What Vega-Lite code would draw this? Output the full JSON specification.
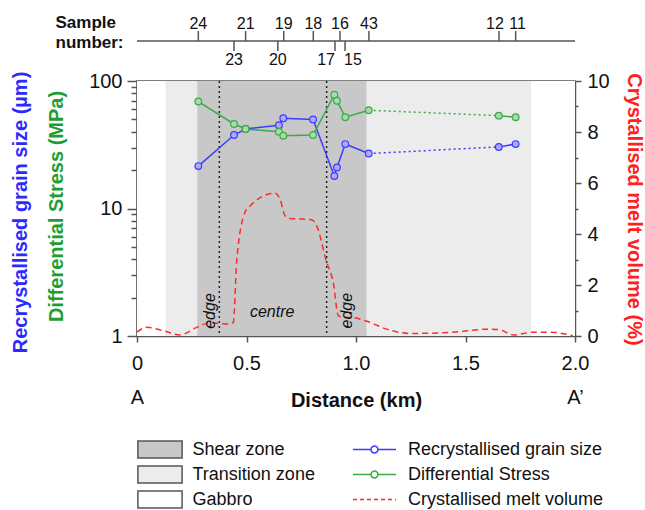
{
  "$schema": "https://vega.github.io/schema/vega-lite/v6.json",
  "padding": {"left": 9, "top": 13, "right": 5, "bottom": 0},
  "bounds": "flush",
  "spacing": 15,
  "config": {
    "font": "Liberation Sans",
    "view": {"stroke": null},
    "axis": {"grid": false, "domainColor": "#555", "tickColor": "#555", "domainWidth": 1.5, "tickWidth": 1.5, "labelColor": "#111", "labelFontSize": 20, "titleFontSize": 20, "titleFontWeight": "bold", "labelFont": "Liberation Sans", "titleFont": "Liberation Sans"},
    "legend": {"labelFont": "Liberation Sans", "labelFontSize": 18, "labelColor": "#111"}
  },
  "vconcat": [
    {
      "width": 438,
      "height": 50,
      "data": {"values": [
        {"sample": "24", "km": 0.28, "side": "up"},
        {"sample": "23", "km": 0.443, "side": "down"},
        {"sample": "21", "km": 0.496, "side": "up"},
        {"sample": "20", "km": 0.643, "side": "down"},
        {"sample": "19", "km": 0.67, "side": "up"},
        {"sample": "18", "km": 0.805, "side": "up"},
        {"sample": "17", "km": 0.904, "side": "down"},
        {"sample": "16", "km": 0.927, "side": "up"},
        {"sample": "15", "km": 0.95, "side": "down"},
        {"sample": "43", "km": 1.059, "side": "up"},
        {"sample": "12", "km": 1.653, "side": "up"},
        {"sample": "11", "km": 1.729, "side": "up"}
      ]},
      "layer": [
        {
          "data": {"values": [{}]},
          "mark": {"type": "rule", "color": "#555", "strokeWidth": 1.5},
          "encoding": {
            "x": {"datum": 0, "type": "quantitative", "scale": {"domain": [0, 2], "nice": false}, "axis": null},
            "x2": {"datum": 2},
            "y": {"datum": 0, "type": "quantitative", "scale": {"domain": [-1, 1]},
              "axis": {"title": ["Sample", "number:"], "domain": false, "ticks": false, "labels": false, "titleAngle": 0, "titleAlign": "left", "titleBaseline": "alphabetic", "titleX": -82, "titleY": 11, "titleFontSize": 17, "titleLineHeight": 20, "titleColor": "#111"}}
          }
        },
        {
          "transform": [{"filter": "datum.side == 'up'"}],
          "mark": {"type": "rule", "color": "#555", "strokeWidth": 1.5},
          "encoding": {
            "x": {"field": "km", "type": "quantitative"},
            "y": {"datum": 0, "type": "quantitative"},
            "y2": {"datum": 0.4}
          }
        },
        {
          "transform": [{"filter": "datum.side == 'down'"}],
          "mark": {"type": "rule", "color": "#555", "strokeWidth": 1.5},
          "encoding": {
            "x": {"field": "km", "type": "quantitative"},
            "y": {"datum": 0, "type": "quantitative"},
            "y2": {"datum": -0.4}
          }
        },
        {
          "transform": [{"filter": "datum.side == 'up' && datum.sample != '12' && datum.sample != '11'"}],
          "mark": {"type": "text", "fontSize": 16, "baseline": "alphabetic", "color": "#111"},
          "encoding": {
            "x": {"field": "km", "type": "quantitative"},
            "y": {"datum": 0.5, "type": "quantitative"},
            "text": {"field": "sample"}
          }
        },
        {
          "transform": [{"filter": "datum.sample == '12'"}],
          "mark": {"type": "text", "fontSize": 16, "baseline": "alphabetic", "color": "#111", "dx": -4},
          "encoding": {
            "x": {"field": "km", "type": "quantitative"},
            "y": {"datum": 0.5, "type": "quantitative"},
            "text": {"field": "sample"}
          }
        },
        {
          "transform": [{"filter": "datum.sample == '11'"}],
          "mark": {"type": "text", "fontSize": 16, "baseline": "alphabetic", "color": "#111", "dx": 2},
          "encoding": {
            "x": {"field": "km", "type": "quantitative"},
            "y": {"datum": 0.5, "type": "quantitative"},
            "text": {"field": "sample"}
          }
        },
        {
          "transform": [{"filter": "datum.sample == '23' || datum.sample == '20'"}],
          "mark": {"type": "text", "fontSize": 16, "baseline": "alphabetic", "color": "#111"},
          "encoding": {
            "x": {"field": "km", "type": "quantitative"},
            "y": {"datum": -0.96, "type": "quantitative"},
            "text": {"field": "sample"}
          }
        },
        {
          "transform": [{"filter": "datum.sample == '17'"}],
          "mark": {"type": "text", "fontSize": 16, "baseline": "alphabetic", "align": "right", "color": "#111"},
          "encoding": {
            "x": {"field": "km", "type": "quantitative"},
            "y": {"datum": -0.96, "type": "quantitative"},
            "text": {"field": "sample"}
          }
        },
        {
          "transform": [{"filter": "datum.sample == '15'"}],
          "mark": {"type": "text", "fontSize": 16, "baseline": "alphabetic", "align": "left", "dx": -1, "color": "#111"},
          "encoding": {
            "x": {"field": "km", "type": "quantitative"},
            "y": {"datum": -0.96, "type": "quantitative"},
            "text": {"field": "sample"}
          }
        }
      ]
    },
    {
      "width": 438,
      "height": 255,
      "view": {"stroke": "#555", "strokeWidth": 1.5},
      "resolve": {"scale": {"y": "independent"}},
      "layer": [
        {
          "data": {"values": [
            {"zone": "Gabbro", "start": 0, "end": 0.131},
            {"zone": "Transition zone", "start": 0.131, "end": 0.275},
            {"zone": "Shear zone", "start": 0.275, "end": 1.049},
            {"zone": "Transition zone", "start": 1.049, "end": 1.8},
            {"zone": "Gabbro", "start": 1.8, "end": 2.0}
          ]},
          "mark": {"type": "rect"},
          "encoding": {
            "x": {"field": "start", "type": "quantitative", "scale": {"domain": [0, 2], "nice": false},
              "axis": {"title": "Distance (km)", "values": [0, 0.5, 1, 1.5, 2], "labelExpr": "datum.value == 0 ? ['0', 'A'] : datum.value == 2 ? ['2.0', 'A\u2019'] : format(datum.value, '.1f')", "labelLineHeight": 34, "labelFlush": false, "labelOverlap": false, "tickSize": 6, "labelPadding": 11, "titleY": 70, "titleBaseline": "alphabetic", "titleColor": "#111"}},
            "x2": {"field": "end"},
            "fill": {"field": "zone", "type": "nominal",
              "scale": {"domain": ["Shear zone", "Transition zone", "Gabbro"], "range": ["#c8c8c8", "#ececec", "#ffffff"]},
              "legend": {"title": null, "orient": "none", "legendX": 13.5, "legendY": 424, "symbolType": "M-2.6,-1H2.6V1H-2.6Z", "symbolSize": 289, "symbolStrokeColor": "#555", "symbolStrokeWidth": 1.5, "labelOffset": 23, "rowPadding": 2, "labelFontSize": 18, "labelLimit": 300,
                "encode": {"symbols": {"update": {"stroke": {"value": "#555"}, "strokeWidth": {"value": 1.5}}}}}}
          }
        },
        {
          "data": {"values": [{"km": 0.376}, {"km": 0.866}]},
          "mark": {"type": "rule", "color": "#222", "strokeWidth": 1.5, "strokeDash": [2, 3]},
          "encoding": {"x": {"field": "km", "type": "quantitative"}}
        },
        {
          "data": {"values": [
            {"series": "Crystallised melt volume", "km": 0, "melt": 0.15},
            {"series": "Crystallised melt volume", "km": 0.044, "melt": 0.34},
            {"series": "Crystallised melt volume", "km": 0.12, "melt": 0.21},
            {"series": "Crystallised melt volume", "km": 0.196, "melt": 0.04},
            {"series": "Crystallised melt volume", "km": 0.273, "melt": 0.34},
            {"series": "Crystallised melt volume", "km": 0.333, "melt": 0.51},
            {"series": "Crystallised melt volume", "km": 0.425, "melt": 0.47},
            {"series": "Crystallised melt volume", "km": 0.44, "melt": 0.54},
            {"series": "Crystallised melt volume", "km": 0.455, "melt": 2.9},
            {"series": "Crystallised melt volume", "km": 0.493, "melt": 4.85},
            {"series": "Crystallised melt volume", "km": 0.516, "melt": 5.1},
            {"series": "Crystallised melt volume", "km": 0.63, "melt": 5.6},
            {"series": "Crystallised melt volume", "km": 0.653, "melt": 5.37},
            {"series": "Crystallised melt volume", "km": 0.676, "melt": 4.72},
            {"series": "Crystallised melt volume", "km": 0.699, "melt": 4.61},
            {"series": "Crystallised melt volume", "km": 0.797, "melt": 4.56},
            {"series": "Crystallised melt volume", "km": 0.82, "melt": 4.33},
            {"series": "Crystallised melt volume", "km": 0.866, "melt": 2.89},
            {"series": "Crystallised melt volume", "km": 0.896, "melt": 2.11},
            {"series": "Crystallised melt volume", "km": 0.919, "melt": 0.8},
            {"series": "Crystallised melt volume", "km": 0.942, "melt": 0.73},
            {"series": "Crystallised melt volume", "km": 0.973, "melt": 0.73},
            {"series": "Crystallised melt volume", "km": 1.049, "melt": 0.58},
            {"series": "Crystallised melt volume", "km": 1.14, "melt": 0.27},
            {"series": "Crystallised melt volume", "km": 1.247, "melt": 0.1},
            {"series": "Crystallised melt volume", "km": 1.43, "melt": 0.14},
            {"series": "Crystallised melt volume", "km": 1.61, "melt": 0.27},
            {"series": "Crystallised melt volume", "km": 1.658, "melt": 0.24},
            {"series": "Crystallised melt volume", "km": 1.718, "melt": 0.04},
            {"series": "Crystallised melt volume", "km": 1.81, "melt": 0.15},
            {"series": "Crystallised melt volume", "km": 1.886, "melt": 0.15},
            {"series": "Crystallised melt volume", "km": 1.99, "melt": 0.01}
          ]},
          "mark": {"type": "line", "strokeWidth": 1.5, "strokeDash": [6, 4], "interpolate": "monotone"},
          "encoding": {
            "x": {"field": "km", "type": "quantitative"},
            "y": {"field": "melt", "type": "quantitative", "scale": {"domain": [0, 10], "nice": false},
              "axis": {"orient": "right", "values": [0, 1, 2, 3, 4, 5, 6, 7, 8, 9, 10], "labelExpr": "datum.value % 2 == 0 ? datum.label : ''", "tickSize": {"condition": {"test": "datum.value % 2 == 1", "value": 3}, "value": 6}, "labelPadding": 6, "title": "Crystallised melt volume (%)", "titleColor": "#ff2020", "titleX": 58, "titleY": 128, "titleAngle": 90, "titleBaseline": "middle"}},
            "stroke": {"field": "series", "type": "nominal"}
          }
        },
        {
          "layer": [
            {
              "data": {"values": [{"label": "edge", "km": 0.333, "y": 1.57}, {"label": "edge", "km": 0.957, "y": 1.58}]},
              "mark": {"type": "text", "angle": 270, "fontSize": 16, "fontStyle": "italic", "color": "#111"},
              "encoding": {
                "x": {"field": "km", "type": "quantitative"},
                "y": {"field": "y", "type": "quantitative", "scale": {"type": "log", "domain": [1, 100]},
                  "axis": {"orient": "left", "domain": false, "ticks": false, "labels": false, "title": "Recrystallised grain size (\u00b5m)", "titleColor": "#2b2bff", "titleX": -117, "titleY": 131, "titleAngle": 270, "titleBaseline": "middle"}},
                "text": {"field": "label"}
              }
            },
            {
              "data": {"values": [{"label": "centre", "km": 0.617, "y": 1.55}]},
              "mark": {"type": "text", "fontSize": 16, "fontStyle": "italic", "color": "#111"},
              "encoding": {
                "x": {"field": "km", "type": "quantitative"},
                "y": {"field": "y", "type": "quantitative"},
                "text": {"field": "label"}
              }
            }
          ]
        },
        {
          "data": {"values": [
            {"series": "Recrystallised grain size", "seg": "a", "km": 0.28, "value": 21.5},
            {"series": "Recrystallised grain size", "seg": "a", "km": 0.443, "value": 37.7},
            {"series": "Recrystallised grain size", "seg": "a", "km": 0.496, "value": 42},
            {"series": "Recrystallised grain size", "seg": "a", "km": 0.648, "value": 45},
            {"series": "Recrystallised grain size", "seg": "a", "km": 0.668, "value": 51},
            {"series": "Recrystallised grain size", "seg": "a", "km": 0.804, "value": 50},
            {"series": "Recrystallised grain size", "seg": "a", "km": 0.901, "value": 18},
            {"series": "Recrystallised grain size", "seg": "a", "km": 0.913, "value": 21},
            {"series": "Recrystallised grain size", "seg": "a", "km": 0.951, "value": 32},
            {"series": "Recrystallised grain size", "seg": "a", "km": 1.058, "value": 27},
            {"series": "Recrystallised grain size", "seg": "b", "km": 1.058, "value": 27},
            {"series": "Recrystallised grain size", "seg": "b", "km": 1.652, "value": 30.4},
            {"series": "Recrystallised grain size", "seg": "c", "km": 1.652, "value": 30.4},
            {"series": "Recrystallised grain size", "seg": "c", "km": 1.729, "value": 32},
            {"series": "Differential Stress", "seg": "a", "km": 0.28, "value": 69},
            {"series": "Differential Stress", "seg": "a", "km": 0.443, "value": 46},
            {"series": "Differential Stress", "seg": "a", "km": 0.496, "value": 42},
            {"series": "Differential Stress", "seg": "a", "km": 0.648, "value": 40},
            {"series": "Differential Stress", "seg": "a", "km": 0.668, "value": 37.2},
            {"series": "Differential Stress", "seg": "a", "km": 0.804, "value": 37.7},
            {"series": "Differential Stress", "seg": "a", "km": 0.901, "value": 78},
            {"series": "Differential Stress", "seg": "a", "km": 0.913, "value": 70},
            {"series": "Differential Stress", "seg": "a", "km": 0.951, "value": 52},
            {"series": "Differential Stress", "seg": "a", "km": 1.058, "value": 59},
            {"series": "Differential Stress", "seg": "b", "km": 1.058, "value": 59},
            {"series": "Differential Stress", "seg": "b", "km": 1.652, "value": 53.5},
            {"series": "Differential Stress", "seg": "c", "km": 1.652, "value": 53.5},
            {"series": "Differential Stress", "seg": "c", "km": 1.729, "value": 52}
          ]},
          "layer": [
            {
              "transform": [{"filter": "datum.seg != 'b'"}],
              "mark": {"type": "line", "strokeWidth": 1.5},
              "encoding": {
                "x": {"field": "km", "type": "quantitative"},
                "y": {"field": "value", "type": "quantitative", "scale": {"type": "log", "domain": [1, 100]},
                  "axis": {"orient": "left", "values": [1, 2, 3, 4, 5, 6, 7, 8, 9, 10, 20, 30, 40, 50, 60, 70, 80, 90, 100], "labelExpr": "datum.value == 1 || datum.value == 10 || datum.value == 100 ? '' + datum.value : ''", "tickSize": {"condition": {"test": "datum.value == 1 || datum.value == 10 || datum.value == 100", "value": 10}, "value": 6}, "labelPadding": 5, "title": "Differential Stress (MPa)", "titleColor": "#1e9e32", "titleX": -81, "titleY": 125, "titleAngle": 270, "titleBaseline": "middle"}},
                "stroke": {"field": "series", "type": "nominal",
                  "scale": {"domain": ["Recrystallised grain size", "Differential Stress", "Crystallised melt volume"], "range": ["#3c3cff", "#3caa48", "#ff2a2a"]},
                  "legend": {"title": null, "orient": "none", "legendX": 228, "legendY": 424, "symbolType": "M-2.5,0H2.5", "symbolSize": 296, "symbolStrokeWidth": 1.5, "labelOffset": 24, "rowPadding": 6, "labelFontSize": 18, "labelLimit": 300,
                    "encode": {"symbols": {"update": {
                      "shape": {"signal": "datum.value === 'Crystallised melt volume' ? 'M-2.5,0H2.5' : 'M-2.5,0H-0.4M0.4,0H2.5M0.4,0A0.4,0.4 0 1,1 -0.4,0A0.4,0.4 0 1,1 0.4,0'"},
                      "strokeDash": {"signal": "datum.value === 'Crystallised melt volume' ? [4, 3] : [1, 0]"},
                      "fill": {"value": "white"},
                      "strokeWidth": {"value": 1.5}
                    }}}}},
                "detail": {"field": "seg"}
              }
            },
            {
              "transform": [{"filter": "datum.seg == 'b'"}],
              "mark": {"type": "line", "strokeWidth": 1.5, "strokeDash": [2, 3]},
              "encoding": {
                "x": {"field": "km", "type": "quantitative"},
                "y": {"field": "value", "type": "quantitative"},
                "stroke": {"field": "series", "type": "nominal"},
                "detail": {"field": "seg"}
              }
            },
            {
              "transform": [{"filter": "datum.seg != 'b' && datum.series == 'Recrystallised grain size'"}],
              "mark": {"type": "circle", "size": 45, "fill": "#aaaaff", "stroke": "#3c3cff", "strokeWidth": 1.2, "opacity": 1},
              "encoding": {
                "x": {"field": "km", "type": "quantitative"},
                "y": {"field": "value", "type": "quantitative"}
              }
            },
            {
              "transform": [{"filter": "datum.seg != 'b' && datum.series == 'Differential Stress'"}],
              "mark": {"type": "circle", "size": 45, "fill": "#a6dcaa", "stroke": "#3caa48", "strokeWidth": 1.2, "opacity": 1},
              "encoding": {
                "x": {"field": "km", "type": "quantitative"},
                "y": {"field": "value", "type": "quantitative"}
              }
            }
          ]
        }
      ]
    }
  ]
}
